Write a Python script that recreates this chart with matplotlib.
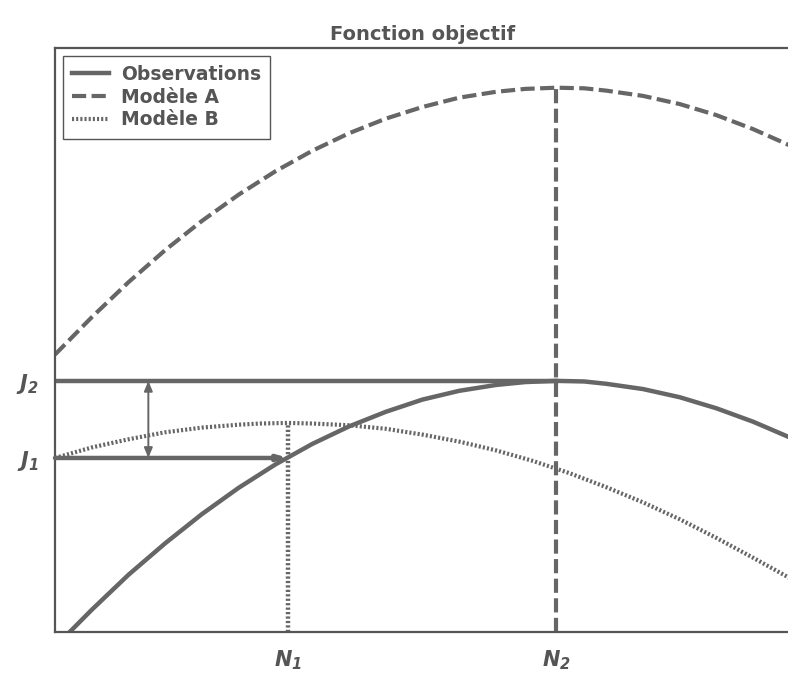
import matplotlib
matplotlib.use('Agg')
import matplotlib.pyplot as plt

# values (x and y both run from 0 to 10)
obs_x = [0.2, 0.5, 1.0, 1.5, 2.0, 2.5, 3.0, 3.5, 4.0, 4.5, 5.0, 5.5, 6.0, 6.4, 6.82,
         7.2, 7.5, 8.0, 8.5, 9.0, 9.5, 10.0]
obs_y = [0.00, 0.38, 0.98, 1.52, 2.02, 2.47, 2.87, 3.22, 3.52, 3.77, 3.98, 4.13, 4.23, 4.28, 4.30,
         4.29, 4.25, 4.16, 4.02, 3.83, 3.60, 3.33]

modA_x = [0.0, 0.5, 1.0, 1.5, 2.0, 2.5, 3.0, 3.5, 4.0, 4.5, 5.0, 5.5, 6.0, 6.4, 6.82,
          7.2, 7.5, 8.0, 8.5, 9.0, 9.5, 10.0]
modA_y = [4.75, 5.39, 5.99, 6.54, 7.04, 7.49, 7.89, 8.24, 8.54, 8.79, 8.99, 9.15, 9.25, 9.30, 9.32,
          9.31, 9.27, 9.18, 9.04, 8.85, 8.61, 8.33]

modB_x = [0.0, 0.5, 1.0, 1.5, 2.0, 2.5, 2.8, 3.17, 3.5, 4.0, 4.5, 5.0, 5.5, 6.0, 6.5,
          7.0, 7.5, 8.0, 8.5, 9.0, 9.5, 10.0]
modB_y = [2.98, 3.16, 3.30, 3.42, 3.50, 3.55, 3.57, 3.58, 3.57, 3.54, 3.48, 3.38, 3.26, 3.11, 2.93,
          2.72, 2.48, 2.22, 1.93, 1.61, 1.27, 0.92]

N1, N2 = 3.17, 6.82
J1, J2 = 2.98, 4.30
ticks_x = ['$N_1$', '$N_2$']
ticks_y = ['$J_1$', '$J_2$']
labels = ['Observations', 'Modèle A', 'Modèle B']

gray = '#666666'
dark = '#555555'
plt.rcParams['font.family'] = 'DejaVu Sans'
plt.rcParams['mathtext.fontset'] = 'custom'
plt.rcParams['mathtext.it'] = 'DejaVu Sans:italic:bold'
plt.rcParams['mathtext.rm'] = 'DejaVu Sans:italic:bold'
plt.rcParams['mathtext.bf'] = 'DejaVu Sans:italic:bold'

fig = plt.figure(figsize=(7.88, 6.73), dpi=100)
ax = fig.add_axes([55 / 788, 41 / 673, 735 / 788, 584 / 673])

dashA = (0, (3.4, 1.3))
dotB = (0, (0.5, 0.5))
ax.plot(obs_x, obs_y, color=gray, lw=3.2, label=labels[0])
ax.plot(modA_x, modA_y, color=gray, lw=3.0, ls=dashA, label=labels[1])
ax.plot(modB_x, modB_y, color=gray, lw=3.0, ls=dotB, label=labels[2])

# guide lines
ax.plot([N1, N1], [0, max(modB_y)], color=gray, lw=3.2, ls=dotB)
ax.plot([N2, N2], [0, max(modA_y)], color=gray, lw=3.0, ls=dashA)
ax.plot([0, N2], [J2, J2], color=gray, lw=3.2)
ax.annotate('', xy=(N1, J1), xytext=(0, J1),
            arrowprops=dict(arrowstyle='-|>,head_length=0.5,head_width=0.15',
                            lw=3.2, color=gray, shrinkA=0, shrinkB=0))
ax.annotate('', xy=(1.27, J2), xytext=(1.27, J1),
            arrowprops=dict(arrowstyle='<|-|>,head_length=0.6,head_width=0.25',
                            lw=1.4, color=gray, shrinkA=0, shrinkB=0))

ax.set_xlim(0, 10)
ax.set_ylim(0, 10)
ax.set_xticks([N1, N2])
ax.set_xticklabels(ticks_x, fontsize=15, color=dark)
ax.set_yticks([J1, J2])
ax.set_yticklabels(ticks_y, fontsize=15, color=dark)
ax.tick_params(length=0)
ax.tick_params(axis='x', pad=12)
ax.tick_params(axis='y', pad=12)

ax.spines['right'].set_visible(False)
for s in ['left', 'top', 'bottom']:
    ax.spines[s].set_color(dark)
    ax.spines[s].set_linewidth(1.6)

ax.set_title('Fonction objectif', fontsize=14, fontweight='bold', color=dark, pad=6)

leg = ax.legend(loc='upper left', fancybox=False, edgecolor=dark, framealpha=1,
                prop={'size': 13.5, 'weight': 'bold'}, handlelength=2.0,
                handletextpad=0.6, labelspacing=0.2, borderpad=0.5,
                borderaxespad=0.4)
leg.get_frame().set_linewidth(1.0)
for t in leg.get_texts():
    t.set_color(dark)

fig.savefig('out.png', dpi=100)
